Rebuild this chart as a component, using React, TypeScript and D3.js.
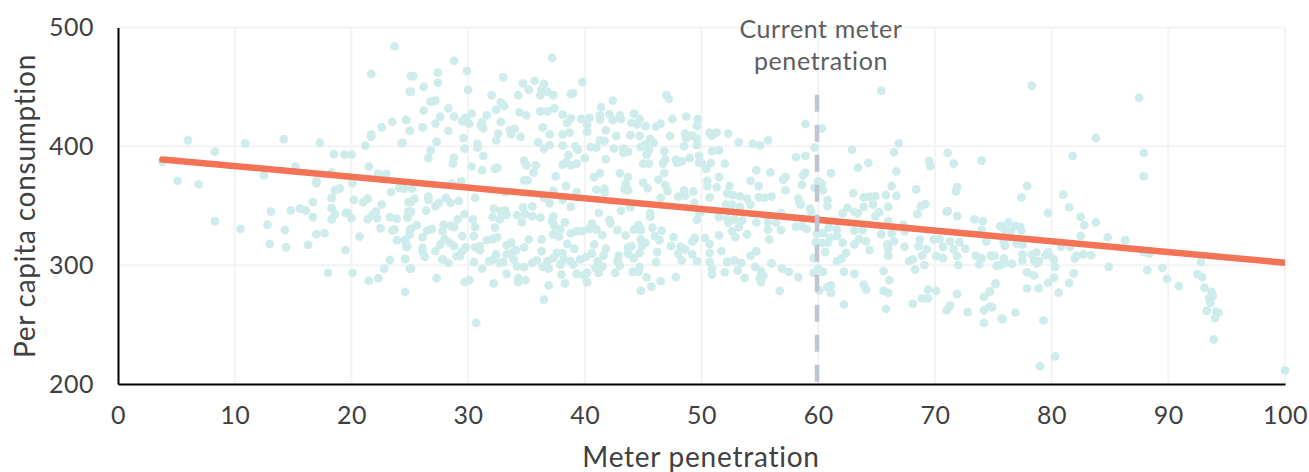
import * as d3 from 'd3';
import React, { useEffect, useRef } from 'react';

// [meter penetration, per capita consumption]
const lowPenetration: number[][] = [
  [23.7,484],[21.7,461],[25.1,459],[25,446],[24.7,422],[23.5,420.5],[22.6,416],[21.7,410],[21.7,408],[25,413],[24.3,402.5],[21.2,400.5],
  [6,405],[8.3,395.5],[10.9,402.5],[14.2,406],[17.3,403],[18.5,393.5],[19.4,393],[20,393],[3.8,387],[15.2,383],[18.3,378],[12.5,375.5],
  [21.5,383],[22.3,377],[23,377],[5.1,371],[6.9,368],[17,371],[17,369],[20.1,369],[19,364.5],[18.6,363],[23.4,361.5],[24.1,365],
  [18.3,356.5],[20.2,355],[21.4,356],[21,353],[16.7,353],[22.6,351],[24.9,353],[18.3,348],[18.6,343],[13.1,345],[14.8,346],[15.6,347.5],
  [16.1,346],[16.7,340.5],[19.5,344],[19.7,344],[22.1,345],[21.8,342],[21.4,338.5],[22.2,339.6],[20,339.6],[18.3,338.5],[23.3,340.5],
  [23.9,339],[24.8,340],[24.9,345],[8.3,337],[10.5,330.6],[12.8,334],[14.3,329.5],[22.5,331],[23.7,330],[23.5,329],[17,326],[17.7,327],
  [20.7,324],[25,329.5],[23.9,321],[24.6,321],[13,318],[14.4,315],[16.3,317],[24.8,316],[19.5,312.6],[23.3,304.5],[24.6,305],[18,293.5],
  [20.1,293.5],[22.8,297],[25,297],[22.3,289],[21.5,287],[24.6,277.5],
];

const middleUpper: number[][] = [
  [28.8,472],[29.9,463.5],[25.3,459],[27.4,462],[27.4,453.6],[26.2,450],[25.1,446],[30,447.5],[33,458],[37.2,474.4],[39.8,454],[34.7,453],
  [35.7,455],[36.5,452.5],[35.2,447.5],[36.3,448],[36.8,446],[36.2,443],[37.3,443],[34.3,443],[32,443],[38.8,444],[39,444.7],[47,443],
  [47.2,440],[42.4,438.5],[41.4,433],[26.8,437.6],[27.2,438.5],[32.8,437],[33.1,434],[26.2,430],[28.3,432],[32.4,430.6],[37.4,432],
  [36.2,429.5],[36.8,429.5],[34.4,428.6],[35,426],[30.3,427.5],[31.6,426],[27.6,425],[28.8,425],[24.7,422.5],[29.8,424],[29.5,421],
  [30.1,419],[31.2,420.5],[31.1,417.7],[31.3,415],[32.8,420.5],[38.1,426.7],[38.8,423.6],[38.5,419.7],[39.7,423],[40.4,424],[41.3,426],
  [41.3,422.5],[42.1,427],[42.4,422],[43,426],[43.1,423],[44.2,427.5],[44.7,423],[44,419.7],[44.5,418.5],[45.2,417],[46.1,416.6],[46.5,419],
  [47.5,423],[48.7,425],[49.7,422.8],[49.6,417],[40.2,418],[40.2,412.4],[26.1,416],[25,413],[27.2,419],[28.3,413],[36.4,416],[37,410],
  [38.1,410],[38.7,411.5],[33.6,413.5],[34,414.6],[33.7,410],[32.6,410.7],[32.4,405],[34.5,408],[29.6,407],[27.3,404],[24.4,403],[41.8,413.5],
  [42.7,408.7],[43.9,409.5],[44.7,408.7],[45.6,406],[47.3,408.7],[48.6,410.7],[49.2,409],[48.7,407],[49.6,406.5],[49.6,401],[48.5,400],
  [30.8,402],[30.8,399],[29.7,398],[36,403.4],[37,401],[36.5,398],[38.1,400.6],[39.2,400],[39.4,397],[40.5,399.4],[41,399],[41.3,405],
  [41.7,404.5],[42.5,398],[43.3,398],[43.7,395.5],[43.3,394.4],[44.8,399.4],[45.2,401.7],[45.5,397],[45.9,403],[45.3,393],[46.8,396],
  [26.8,396.6],[26.6,390],[28.8,390.4],[28.7,385.4],[31.3,392],[34.8,388],[35,384],[35.8,384],[35.6,378],[32.5,382],[32.3,381],[30.3,383],
  [31.2,380],[38.6,392.7],[38.1,384.5],[38.4,386.5],[38.8,384],[39.3,385.4],[40,390],[41.8,389],[45,385.4],[45.5,385.4],[46.9,388.8],
  [46.7,385.4],[47.8,388.8],[47.9,386],[48.3,387.4],[49,390],[49.8,392],[49.8,386],[46.8,377.5],[46.3,372],[43,377.5],[43.7,374],[41.3,377.5],
  [40.8,374],[37.5,375],[34.8,371.3],[35.1,371.3],[43.5,368.5],[45,369.4],[45.4,364.6],[46.9,367.4],[47.1,362.4],[38.4,366.6],[41,363.5],
  [41.7,364.3],[41.7,361],[43.4,363.8],[43.7,363],[48.5,363],[49.3,362],[48,357.6],[48.6,358.4],[46.5,356.7],[29.4,370.5],[28.6,368.5],
  [24.5,364.3],[25.2,364.3],[33.2,361.5],[37.3,362.4],[39.3,361.5],
];

const middleLower: number[][] = [
  [30.6,356.7],[26.6,357.6],[26.6,355],[25.4,356],[25.1,353],[28.1,356.7],[28.5,352.5],[29.2,354],[27.5,352.5],[27.2,349.7],[26.4,345.8],
  [25.1,345],[24.8,340.7],[29.7,343],[36.5,356.7],[37,352],[38.1,355],[38.8,349],[34.7,348.6],[35.5,349.4],[32.2,347.5],[32.8,345.5],
  [33.2,346],[33.3,342.4],[34.2,342],[34.9,343],[35.5,341],[36.2,340],[32.1,340.4],[32.7,338.5],[34.6,336],[37.3,341],[37.2,337],[37.4,333],
  [38.3,336],[37.9,330],[37.3,325.8],[37.8,324],[41.2,344],[43.1,345.8],[43.9,348.6],[45.6,344],[45.6,340.7],[42.1,338],[42.2,335],[42.8,329.5],
  [43.5,325],[44.2,330],[44.6,333.7],[44.8,329.5],[45.8,331.5],[46.6,329],[46,324.4],[46.4,321],[47.6,323.6],[49.4,323],[49.2,319.7],[49.6,338],
  [49.8,344],[40.6,335],[40.4,330.6],[41,330],[41.5,325.3],[38.8,326.7],[39.3,328.7],[39.8,328.7],[30.4,338.5],[30.6,332],[30.5,324.4],[32.3,331.5],
  [25.6,333.7],[25.1,330.6],[25,325.8],[24.6,321],[24.7,315.4],[26.1,323.6],[26.5,329],[26.9,330.6],[27.9,334],[27.8,328.7],[28.5,333],[28.8,332],
  [29.1,338.5],[28,322],[27.6,317.4],[28.4,319],[28.8,316],[29.5,324.4],[26.1,314.6],[26.1,311],[26.3,307],[27.2,311.8],[24.6,305.3],[25.1,297],
  [27.8,304.8],[28.3,302],[29,307.6],[29.3,307.6],[29.8,315],[29.5,311.8],[31,316],[30.6,315],[31,312.6],[31.6,321],[32.1,322],[32.5,323.3],
  [30.5,302.5],[31.2,297],[31.8,303.4],[32.2,304.8],[32.4,309],[32.7,302],[33,302.5],[33.3,316.6],[33.7,319],[34.8,315],[35.2,321.6],[36.3,321.6],
  [33.3,309],[33.8,310.4],[34.1,312.6],[33.9,304.8],[34.2,299],[34.8,298.3],[35.5,302],[35.9,304],[36.3,311.8],[36.4,298.6],[36.9,297],[36.8,303.4],
  [37.3,306],[37.6,310.4],[38.1,309.8],[37.9,300.5],[38.2,304.8],[38.5,318],[39.1,313.8],[38.8,303.4],[39,300.5],[39.6,304.8],[40.1,307],[40.6,309.8],
  [40.8,317.4],[41.6,308],[41.8,313.8],[41.1,303.4],[41.5,299],[40.9,297.8],[41.2,293.5],[42.6,293.5],[42.9,308],[42.8,303.4],[43,299.7],[43.7,315],
  [44,316],[43.7,309.8],[44.2,306],[44.8,321.6],[45.2,318.8],[44.9,316],[44.7,310.4],[46.2,311],[46.1,302.5],[47.4,316],[48.2,315.4],[48.6,313.2],
  [48,309.8],[48.3,304],[49.2,309],[49.6,303.4],[44.7,298.6],[44.1,294.4],[44.6,294.4],[45.3,290],[46.5,286.5],[47.8,290],[45.7,282],[44.8,278.4],
  [38,292],[39.3,292.7],[39.9,291.6],[40.2,293.5],[40.2,285.7],[38.3,284.6],[36.9,282.9],[36.5,271],[34.3,289],[34.3,285.7],[34.9,287.4],[33.3,292.7],
  [32.2,284.6],[30.1,287.4],[29.7,285.7],[27.3,289],[30.7,251.4],
];

const upperMiddleBand: number[][] = [
  [65.4,446.6],[58.9,418.8],[60.3,415],[66.9,402.5],[66.5,395],[62.9,397],[59.7,399],[58.1,391],[58.9,392],[55.7,405],[55,400.8],[54.4,402],
  [53.2,403.4],[52.3,410.7],[51.3,411.5],[50.7,411.5],[50.9,409],[50.9,396],[51.5,396.6],[50,386],[50.4,381],[50.8,386],[52,385.4],[51.5,374],
  [54.7,380],[55.9,378],[54.2,371],[54.9,366.6],[57.2,374],[57,372],[58.9,377.8],[58.7,375.5],[58.6,367.7],[57.2,363],[60,370.5],[60.3,368.5],
  [59.7,365],[60.4,363],[61.1,377.5],[63.4,382],[64.3,386],[66.7,379],[69.5,387.6],[69.6,383.4],[71.1,394.4],[71.6,385.4],[74,388],[68.4,363.8],
  [71.9,365.7],[71.8,362],[66.3,366.6],[63,360.5],[65.8,359],[66.7,358.4],[50.5,371],[50.5,366.6],[51.3,365.7],[52.4,366.6],[50.7,357],[52.2,360.5],
  [52.7,359],[53.3,358],[54.9,357],[55.4,356.7],[56,357.7],[63.9,357],[64.4,357.7],[64.9,358],[58.3,356],[53.9,356],[60.8,355],
];

const lowerMiddleBand: number[][] = [
  [49.4,352.5],[49.9,344.7],[52.1,351],[52.6,351],[53.3,349],[54.2,351],[58.4,352.5],[58.5,351],[59.3,347.5],[59.4,344.7],[60.8,349.7],[62.5,348.3],
  [62.1,343.5],[63.9,349],[64.7,351],[66,349],[63.1,344.7],[63.4,343.5],[65.2,344.7],[64.9,341.3],[69.2,351.4],[68.8,349.7],[68.5,343],[71,345],
  [71.1,345.5],[71.9,341.3],[51.5,340.4],[52.2,339],[52.8,338.5],[53.5,337.6],[52.3,335.7],[54.7,336],[55.7,336.5],[56.4,335.7],[56.8,344],[58.1,332.3],
  [58.6,332.9],[59,330.6],[55.7,330],[56.8,329.5],[49.4,321.6],[50.3,323],[50.7,318],[51.5,325],[52.6,328.7],[53.2,332],[52.9,323.6],[53.9,326],
  [55.8,321.6],[50.7,310.4],[50.7,302.8],[51.7,311.8],[50.9,297],[50.9,292],[52,294],[52.2,302.8],[52.8,304],[53.4,302],[53.1,295.5],[53.7,289.3],
  [54.2,308],[54.7,311.8],[54.6,298.6],[55.1,295],[55.3,291.3],[55,289.3],[55.1,285.7],[56,301.4],[56.9,297],[57.5,294.4],[58.3,290],[56.7,278.4],
  [59.6,306],[59.6,293.5],[60,297],[60.4,294.4],[59.8,319.4],[60.3,318.8],[59.9,326.4],[60.4,327],[60.9,331.5],[61.6,330],[61,323],[60.8,318.8],
  [61.6,324.4],[62.1,318.8],[60.6,311],[62.4,310.4],[62,305.6],[61.6,303.4],[63.1,329],[63.8,329.5],[63.5,322],[63.1,317.4],[64.1,320],[64.4,312.6],
  [65.4,326],[66.3,326.7],[67.4,328.7],[67.3,334],[66,337],[65.9,317.4],[66.5,320],[66,313.8],[66,308],[67.4,315.4],[68.7,321.6],[68.6,316],[69.3,313.2],
  [68.9,308],[67.8,303.4],[68.1,304.8],[68.3,296.3],[69.1,300],[69.9,321.6],[70.4,322],[70.1,307.6],[70.7,315.4],[70.7,306],[71.3,320],[72.1,319.4],
  [71.6,313.2],[72.6,314],[71.9,307.6],[72,300],[73.4,338.5],[74.1,337],[74,329.5],[74.4,320],[73.5,308],[74,306],[73.8,300.6],[74.8,308],[75.1,308],
  [75.6,300],[75.7,333],[62.2,294.4],[63.1,292.7],[65.6,295],[66.1,287.4],[63.9,283.7],[64.1,279.5],[65.6,278.4],[66,276.7],[61.1,283],[60.8,281.5],
  [61.1,276.7],[60.1,278.6],[62.2,266.9],[65.8,263.2],[68.1,267.4],[68.9,272],[69.4,272],[69.4,279.5],[70.1,278.4],[71.9,275.6],[71.3,266],[71,262],
  [72.8,260.4],[74.7,265],[74.2,262],[74.2,273.3],[74.7,278],[75.2,284.6],[74.2,251.4],[75.7,255],
];

const highPenetration: number[][] = [
  [78.3,451],[87.5,441],[83.8,407],[87.9,394.4],[81.8,392],[87.9,374.8],[77.9,366.7],[77.4,357],[81,359.4],[81.5,348.7],[79.7,344],[82.5,340.6],
  [82.8,333.6],[83.8,336],[75.6,332.8],[76.3,335.9],[76.9,333],[77.3,332.2],[77.4,329],[76,329.4],[76.5,328.6],[82.5,324.6],[84.8,323.5],[86.3,321],
  [75.9,319.6],[76,316.2],[77,318.2],[77.5,317.4],[80.8,315.4],[81.6,315.4],[77.5,309],[77.5,304],[78.3,308.7],[78.7,311],[79.5,308.4],[79.7,311],
  [79.8,308.4],[80.2,304.8],[80.3,298.6],[78.5,304],[78.9,303.4],[78.7,301.4],[75.9,305.6],[76,302],[76.6,301],[75.3,299.4],[74.9,307.6],[82.1,307.8],
  [82,305.6],[82.7,309],[83.4,308.4],[87.9,311],[88.4,309.8],[84.9,298.6],[88.2,295.8],[89.5,297.8],[89.9,288.5],[90.9,282.4],[92.8,302.8],[92.5,292.4],
  [92.9,290],[93.1,281],[93.7,277.6],[93.8,274],[93.5,272],[93.6,268.3],[93.3,261.6],[94.1,260.8],[94.3,260],[94,255.5],[93.9,237.5],[100,211.5],
  [77.9,294],[78.5,291.3],[81.9,293],[80.2,289.4],[79.7,285],[81.5,285],[80.6,276.8],[77.9,280.4],[78.9,280.4],[75.2,284],[74.7,277.6],[74.9,264.4],
  [76.9,260],[75.8,254.6],[79.3,253.5],[79,215],[80.3,223.2],
];

const trendX = [3.8, 100];
const trendY = [389, 302];
const currentPenetration = 59.9;
const currentLineTop = 443.5;

const xTicks = [0, 10, 20, 30, 40, 50, 60, 70, 80, 90, 100];
const yTicks = [200, 300, 400, 500];

const annotationLines = ['Current meter', 'penetration'];
const xTitle = 'Meter penetration';
const yTitle = 'Per capita consumption';

const App = () => {
    const container = useRef<SVGSVGElement | null>(null);
    const svgWidth = 1309;
    const svgHeight = 472;
    const fontFamily = 'Lato, sans-serif';

    const x = d3.scaleLinear().domain([0, 100]).range([118, 1285]);
    const y = d3.scaleLinear().domain([200, 500]).range([384, 27.5]);

    useEffect(() => {
        if (!container.current) return;
        const svg = d3.select(container.current);
        svg.selectAll('*').remove();

        // Gridlines
        svg.append('g').selectAll('line').data(xTicks.slice(1)).join('line')
            .attr('x1', d => x(d)).attr('x2', d => x(d))
            .attr('y1', y(500)).attr('y2', y(200))
            .attr('stroke', '#f2f3f5').attr('stroke-width', 2);
        svg.append('g').selectAll('line').data(yTicks.slice(1)).join('line')
            .attr('x1', x(0)).attr('x2', x(100))
            .attr('y1', d => y(d)).attr('y2', d => y(d))
            .attr('stroke', '#f2f3f5').attr('stroke-width', 2);

        // Scatter
        const points = [...lowPenetration, ...middleUpper, ...middleLower, ...upperMiddleBand, ...lowerMiddleBand, ...highPenetration];
        svg.append('g').selectAll('circle').data(points).join('circle')
            .attr('cx', d => x(d[0]))
            .attr('cy', d => y(d[1]))
            .attr('r', 4.4)
            .attr('fill', '#cfecec');

        // Trend line, flat at the plot edge and round at the start
        const clipId = 'plot-clip';
        svg.append('clipPath').attr('id', clipId).append('rect')
            .attr('x', 0).attr('y', 0).attr('width', x(100)).attr('height', svgHeight);
        svg.append('path')
            .datum(trendX.map((d, i) => [d, trendY[i]] as [number, number]))
            .attr('clip-path', `url(#${clipId})`)
            .attr('fill', 'none')
            .attr('stroke', '#f27356')
            .attr('stroke-width', 6.5)
            .attr('stroke-linecap', 'round')
            .attr('d', d3.line().x(d => x(d[0])).y(d => y(d[1])));

        // Current penetration marker
        svg.append('line')
            .attr('x1', x(currentPenetration)).attr('x2', x(currentPenetration))
            .attr('y1', y(currentLineTop)).attr('y2', y(200))
            .attr('stroke', '#bfc5d3')
            .attr('stroke-width', 4.5)
            .attr('stroke-dasharray', '17 13');

        // Axes
        const xAxis = svg.append('g')
            .attr('transform', `translate(0,${y(200)})`)
            .call(d3.axisBottom(x).tickValues(xTicks).tickSize(0).tickPadding(22));
        const yAxis = svg.append('g')
            .attr('transform', `translate(${x(0)},0)`)
            .call(d3.axisLeft(y).tickValues(yTicks).tickSize(0).tickPadding(24));
        [xAxis, yAxis].forEach(axis => {
            axis.select('.domain').attr('stroke', '#000').attr('stroke-width', 2);
            axis.selectAll('text')
                .attr('fill', '#404040')
                .style('font-family', fontFamily)
                .style('font-size', '25px')
                .style('letter-spacing', '0.5px');
        });

        // Annotation
        svg.append('g').selectAll('text').data(annotationLines).join('text')
            .attr('x', 821)
            .attr('y', (d, i) => 38 + i * 31.5)
            .attr('text-anchor', 'middle')
            .attr('fill', '#5e5e5e')
            .style('font-family', fontFamily)
            .style('font-size', '25px')
            .style('letter-spacing', '0.6px')
            .text(d => d);

        // Axis titles
        svg.append('text')
            .attr('x', 701).attr('y', 467)
            .attr('text-anchor', 'middle')
            .attr('fill', '#404040')
            .style('font-family', fontFamily)
            .style('font-size', '28px')
            .style('letter-spacing', '0.75px')
            .text(xTitle);
        svg.append('text')
            .attr('transform', 'translate(35,206) rotate(-90)')
            .attr('text-anchor', 'middle')
            .attr('fill', '#404040')
            .style('font-family', fontFamily)
            .style('font-size', '28px')
            .style('letter-spacing', '0.75px')
            .text(yTitle);
    }, []);

    return (
        <svg
            ref={container}
            width={svgWidth}
            height={svgHeight}
            style={{ position: 'absolute', left: 0, top: 0, display: 'block', background: '#fff' }}
        />
    );
};

export default App;
